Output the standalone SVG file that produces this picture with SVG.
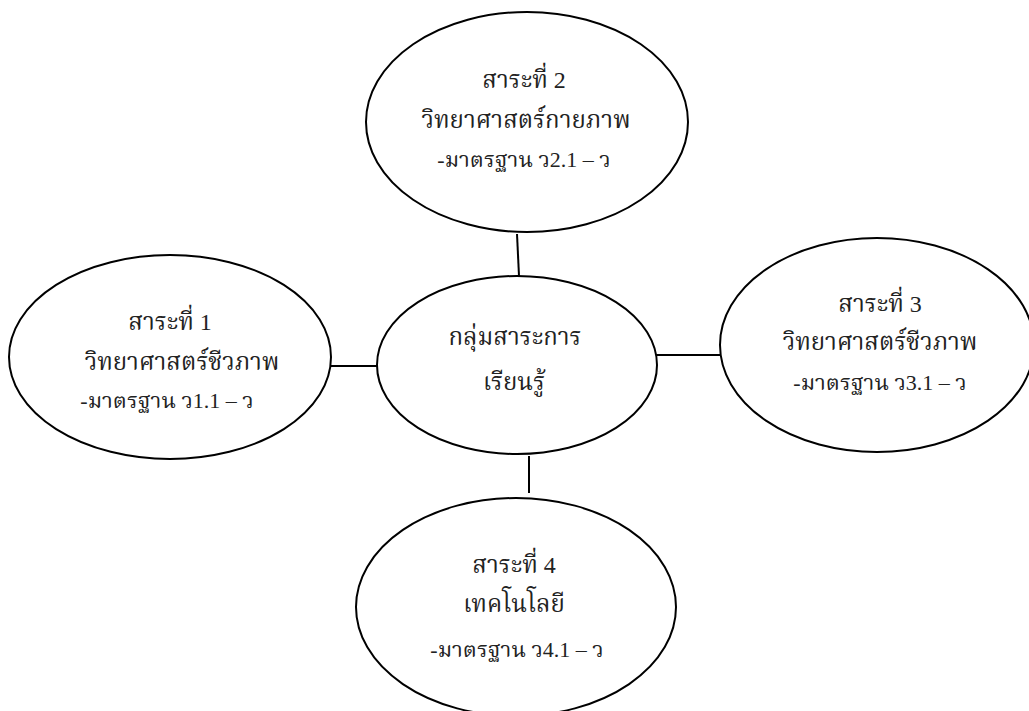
<svg xmlns="http://www.w3.org/2000/svg" width="1029" height="711" viewBox="0 0 1029 711">
<style>
.n{fill:#fff;stroke:#000;stroke-width:2}
.c{stroke:#000;stroke-width:2;fill:none}
text{font-family:"Liberation Serif","Noto Serif Thai","Noto Sans Thai",serif;font-size:24px;fill:#222;text-anchor:middle}
text.s{font-size:22px}
</style>
<rect width="1029" height="711" fill="#fff"/>
<g id="connectors">
<line class="c" x1="517" y1="234" x2="519" y2="276"/>
<line class="c" x1="331" y1="366" x2="384" y2="366"/>
<line class="c" x1="656" y1="355" x2="723" y2="355"/>
<line class="c" x1="529" y1="456" x2="529" y2="493"/>
</g>
<g id="top">
<ellipse class="n" cx="527" cy="122" rx="161" ry="110"/>
<text x="524" y="88">สาระที่ 2</text>
<text x="526" y="128">วิทยาศาสตร์กายภาพ</text>
<text class="s" x="524" y="167">-มาตรฐาน ว2.1 – ว</text>
</g>
<g id="left">
<ellipse class="n" cx="170" cy="357" rx="161" ry="102"/>
<text x="170" y="330">สาระที่ 1</text>
<text x="182" y="370">วิทยาศาสตร์ชีวภาพ</text>
<text class="s" x="167" y="408">-มาตรฐาน ว1.1 – ว</text>
</g>
<g id="center">
<ellipse class="n" cx="517" cy="365" rx="140" ry="89"/>
<text x="515" y="345">กลุ่มสาระการ</text>
<text x="514" y="390">เรียนรู้</text>
</g>
<g id="right">
<ellipse class="n" cx="877" cy="345" rx="157" ry="107"/>
<text x="880" y="312">สาระที่ 3</text>
<text x="880" y="350">วิทยาศาสตร์ชีวภาพ</text>
<text class="s" x="880" y="390">-มาตรฐาน ว3.1 – ว</text>
</g>
<g id="bottom">
<ellipse class="n" cx="516" cy="607" rx="160" ry="109"/>
<text x="514" y="573">สาระที่ 4</text>
<text x="514" y="612">เทคโนโลยี</text>
<text class="s" x="517" y="657">-มาตรฐาน ว4.1 – ว</text>
</g>
</svg>
